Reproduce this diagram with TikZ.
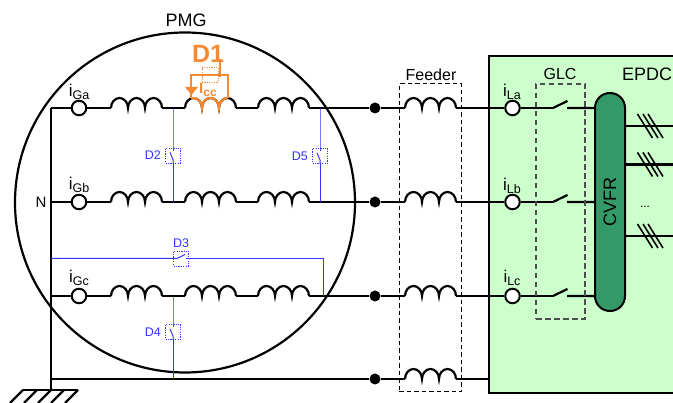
\documentclass[tikz,border=0pt]{standalone}
\usepackage{fontspec}
\setmainfont{Liberation Sans}
\definecolor{epdcgreen}{HTML}{CCFFCC}
\definecolor{cvfrgreen}{HTML}{339966}
\definecolor{faultblue}{HTML}{3333FF}
\definecolor{faultorange}{HTML}{F58A30}
\newcommand{\curlab}[1]{i\raisebox{-3pt}{\fontsize{12.5}{12.5}\selectfont #1}}
\newcommand{\fsz}[1]{\fontsize{#1}{#1}\selectfont}
\begin{document}
\begin{tikzpicture}[
	x=1pt, y=1pt,
	wire/.style={line width=2.2pt},
	faultwire/.style={line width=1pt, faultblue},
	ctnode/.style={circle, draw, line width=2pt, fill=white, inner sep=0pt, minimum size=14.5pt},
	rowdot/.style={circle, fill, inner sep=0pt, minimum size=11pt},
	dbox/.style={rectangle, draw=faultblue, dash pattern=on 1.2pt off 1.2pt, line width=0.9pt, inner sep=0pt, minimum size=15pt},
	dlabel/.style={text=faultblue, font=\fsz{12.5}, inner sep=0pt},
	textlabel/.style={font=\fsz{16}, inner sep=0pt},
	curlabel/.style={font=\fsz{17}, inner sep=0pt},
	coil/.pic={
		\coordinate (-in) at (0,0);
		\coordinate (-out) at (51,0);
		\draw[wire] (0,0) arc[start angle=180, end angle=0, x radius=8.5, y radius=10]
		arc[start angle=180, end angle=0, x radius=8.5, y radius=10]
		arc[start angle=180, end angle=0, x radius=8.5, y radius=10];
	}
	]
	
	\useasboundingbox (0,0) rectangle (673,403);
	
	\fill[epdcgreen] (489,10) rectangle (673,347);
	\draw[wire] (673,347) -- (489,347) -- (489,10) -- (673,10);
	
	\node[circle, draw, line width=2.2pt, inner sep=0pt, minimum size=340pt] (pmg) at (185,200.5) {};
	\node[textlabel, font=\fsz{18}] (pmglabel) at (186,383) {PMG};
	
	\coordinate (na) at (51,295);
	\coordinate (nb) at (51,201);
	\coordinate (nc) at (51,107);
	\coordinate (nd) at (51,24);
	\coordinate (gnd) at (51,13);
	\draw[wire] (na) -- (gnd);
	\draw[wire] (23,13) -- (78,13);
	\draw[wire] (23,13) -- (10,0) (37,13) -- (24,0) (gnd) -- (38,0) (64,13) -- (51,0) (78,13) -- (65,0);
	
	\pic (ga1) at (111,295) {coil};
	\pic (ga2) at (185,295) {coil};
	\pic (ga3) at (258,295) {coil};
	\pic (gb1) at (111,201) {coil};
	\pic (gb2) at (185,201) {coil};
	\pic (gb3) at (258,201) {coil};
	\pic (gc1) at (111,107) {coil};
	\pic (gc2) at (185,107) {coil};
	\pic (gc3) at (258,107) {coil};
	\pic (fa) at (405,295) {coil};
	\pic (fb) at (405,201) {coil};
	\pic (fc) at (405,107) {coil};
	\pic (fd) at (405,24) {coil};
	
	\node[ctnode] (ctga) at (79,295) {};
	\node[ctnode] (ctgb) at (79,201) {};
	\node[ctnode] (ctgc) at (79,107) {};
	\node[ctnode] (ctla) at (512.5,295) {};
	\node[ctnode] (ctlb) at (512.5,201) {};
	\node[ctnode] (ctlc) at (512.5,107) {};
	\node[rowdot] (da) at (375,295) {};
	\node[rowdot] (db) at (375,201) {};
	\node[rowdot] (dc) at (375,107) {};
	\node[rowdot] (dd) at (375,24) {};
	
	\node[curlabel] (lga) at (79,311) {\curlab{Ga}};
	\node[curlabel] (lgb) at (79,218) {\curlab{Gb}};
	\node[curlabel] (lgc) at (79,125) {\curlab{Gc}};
	\node[curlabel] (lla) at (512,311) {\curlab{La}};
	\node[curlabel] (llb) at (512,217) {\curlab{Lb}};
	\node[curlabel] (llc) at (512,125) {\curlab{Lc}};
	\node[textlabel, font=\fsz{15}] (nlabel) at (41,201) {N};
	
	\node[rectangle, draw, line width=2pt, fill=cvfrgreen, rounded corners=14.9pt, rotate=90, minimum width=218pt, minimum height=30pt, inner sep=0pt, font=\fsz{18}] (cvfr) at (610,201) {CVFR};
	
	\coordinate (swa1) at (553,295);
	\coordinate (swb1) at (553,201);
	\coordinate (swc1) at (553,107);
	\coordinate (swa2) at (567,295);
	\coordinate (swb2) at (567,201);
	\coordinate (swc2) at (567,107);
	
	\draw[wire] (na) -- (ctga) (ctga) -- (ga1-in) (ga1-out) -- (ga2-in) (ga2-out) -- (ga3-in) (ga3-out) -- (da) (da) -- (fa-in) (fa-out) -- (ctla) (ctla) -- (swa1);
	\draw[wire] (nb) -- (ctgb) (ctgb) -- (gb1-in) (gb1-out) -- (gb2-in) (gb2-out) -- (gb3-in) (gb3-out) -- (db) (db) -- (fb-in) (fb-out) -- (ctlb) (ctlb) -- (swb1);
	\draw[wire] (nc) -- (ctgc) (ctgc) -- (gc1-in) (gc1-out) -- (gc2-in) (gc2-out) -- (gc3-in) (gc3-out) -- (dc) (dc) -- (fc-in) (fc-out) -- (ctlc) (ctlc) -- (swc1);
	\draw[wire] (nd) -- (dd) (dd) -- (fd-in) (fd-out) -- (489,24);
	
	\draw[wire] (swa1) -- ++(14.5,7) (swa2) -- (swa2 -| cvfr.north);
	\draw[wire] (swb1) -- ++(14.5,7) (swb2) -- (swb2 -| cvfr.north);
	\draw[wire] (swc1) -- ++(14.5,7) (swc2) -- (swc2 -| cvfr.north);
	
	\coordinate (outa) at (673,277);
	\coordinate (outb) at (673,238.5);
	\coordinate (outc) at (673,167);
	\draw[wire] (outa -| cvfr.south) -- (outa);
	\draw[wire] (outb -| cvfr.south) -- (outb);
	\draw[wire] (outc -| cvfr.south) -- (outc);
	\foreach \yy in {277,238.5,167}
	\foreach \xx in {637.5,643,648}
	\draw[line width=1.6pt] (\xx,\yy+12) -- (\xx+15,\yy-12);
	\node[anchor=base, font=\fsz{12}, inner sep=0pt] (dots) at (645,195) {...};
	
	\node[rectangle, draw, dash pattern=on 4.5pt off 3pt, line width=1pt, minimum width=62.5pt, minimum height=308pt, inner sep=0pt] (feeder) at (430.5,165) {};
	\node[textlabel] (feederlabel) at (431,328) {Feeder};
	\node[rectangle, draw=black!70, dash pattern=on 5.5pt off 3.5pt, line width=1.1pt, minimum width=49pt, minimum height=235pt, inner sep=0pt] (glc) at (560.5,201.5) {};
	\node[textlabel] (glclabel) at (560,328.5) {GLC};
	\node[textlabel, anchor=west, font=\fsz{18}] (epdclabel) at (622,329) {EPDC};
	
	\node[dbox] (d2) at (173,247.5) {};
	\node[dbox] (d5) at (320,247) {};
	\node[dbox] (d4) at (173,71) {};
	\node[dbox] (d3) at (181,144.5) {};
	\node[dlabel, anchor=east] (d2label) at (161,248) {D2};
	\node[dlabel, anchor=east] (d5label) at (308,247) {D5};
	\node[dlabel, anchor=east] (d4label) at (161,71) {D4};
	\node[dlabel] (d3label) at (181,160) {D3};
	
	\draw[faultwire] (173,295) -- (d2.north) -- ++(0,-3) (d2.south) -- (173,201);
	\draw[faultwire] (d2.south) -- ++(0,4) -- ++(-3,7);
	\draw[faultwire] (320,295) -- (d5.north) -- ++(0,-3) (d5.south) -- (320,201);
	\draw[faultwire] (d5.south) -- ++(0,4) -- ++(-3,7);
	\draw[faultwire] (173,107) -- (d4.north) -- ++(0,-3) (d4.south) -- (173,24);
	\draw[faultwire] (d4.south) -- ++(0,4) -- ++(-3,7);
	\draw[faultwire] (na |- d3.west) -- (d3.west) -- ++(4,0) -- ++(8,4);
	\draw[faultwire] (d3.east) -- ++(-3,0) (d3.east) -- (323,144.5) -- (323,107);
	
	\draw[faultorange, wire] (191,304.6) arc[start angle=107, end angle=0, x radius=8.5, y radius=10]
	arc[start angle=180, end angle=0, x radius=8.5, y radius=10]
	arc[start angle=180, end angle=90, x radius=8.5, y radius=10];
	\draw[faultorange, wire] (191,304.6) -- (191,328) coordinate (d1a) -- (228,328) coordinate (d1b) -- (228,305);
	\fill[faultorange] (185,316) -- (198,316) -- (191.5,308) -- cycle;
	\node[rectangle, draw=faultorange, dash pattern=on 1.2pt off 1.2pt, line width=0.9pt, inner sep=0pt, minimum width=16pt, minimum height=14.5pt] (d1box) at (210,328) {};
	\node[text=faultorange, font=\bfseries\fsz{25}, inner sep=0pt] (d1label) at (208,349) {D1};
	\draw[faultorange, wire] (220,344) -- (220,326);
	\node[text=faultorange, font=\bfseries\fsz{15}, anchor=west, inner sep=0pt] (icc) at (199,313) {I\raisebox{-3pt}{\fsz{12}cc}};
\end{tikzpicture}
\end{document}
